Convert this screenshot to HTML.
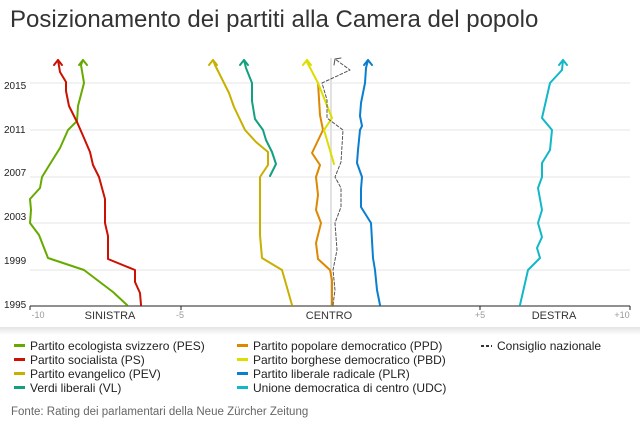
<!DOCTYPE html><html><head><meta charset="utf-8"><style>
body{margin:0;width:640px;height:426px;background:#fff;font-family:"Liberation Sans","DejaVu Sans",sans-serif;overflow:hidden;position:relative}
.t{position:absolute;left:10px;top:6px;font-size:24px;color:#333}
.lg{position:absolute;font-size:12px;color:#222;white-space:nowrap}
.lg i{display:inline-block;width:11px;height:3px;vertical-align:middle;margin-right:5px;position:relative;top:-1px}
.f{position:absolute;left:11px;top:406px;font-size:11.5px;color:#666}
</style></head><body>
<div class="t">Posizionamento dei partiti alla Camera del popolo</div>
<svg width="640" height="426" style="position:absolute;left:0;top:0" font-family="Liberation Sans, DejaVu Sans, sans-serif">
<defs><linearGradient id="sh" x1="0" y1="0" x2="0" y2="1"><stop offset="0" stop-color="#e4e4e4"/><stop offset="1" stop-color="#ffffff"/></linearGradient></defs>
<rect x="0" y="327" width="640" height="8" fill="url(#sh)"/>
<g stroke="#eeeeee" stroke-width="1.5">
<line x1="30" x2="630" y1="83" y2="83"/><line x1="30" x2="630" y1="130" y2="130"/><line x1="30" x2="630" y1="177" y2="177"/><line x1="30" x2="630" y1="223" y2="223"/><line x1="30" x2="630" y1="270" y2="270"/>
</g>
<line x1="331" x2="331" y1="58" y2="306" stroke="#e2e2e2" stroke-width="2"/>
<line x1="30" x2="630" y1="306" y2="306" stroke="#222" stroke-width="1"/>
<g stroke="#222"><line x1="30" x2="30" y1="306" y2="310"/><line x1="181" x2="181" y1="306" y2="310"/><line x1="480" x2="480" y1="306" y2="310"/><line x1="630" x2="630" y1="306" y2="310"/></g>
<g font-size="10" fill="#222"><text x="4" y="89">2015</text><text x="4" y="133">2011</text><text x="4" y="176">2007</text><text x="4" y="220">2003</text><text x="4" y="264">1999</text><text x="4" y="308">1995</text></g>
<g font-size="9" fill="#999" text-anchor="middle"><text x="38" y="318">-10</text><text x="180" y="318">-5</text><text x="480" y="318">+5</text><text x="622" y="318">+10</text></g>
<g font-size="11" fill="#333" text-anchor="middle"><text x="110" y="319">SINISTRA</text><text x="329" y="319">CENTRO</text><text x="554" y="319">DESTRA</text></g>
<g fill="none" stroke-width="2" stroke-linejoin="round" stroke-linecap="round">
<polyline stroke="#66aa00" points="127,305 113,292 84,270 48,258 39,235 30,223 31,210 30,199 40,188 42,177 50,164 60,148 68,130 77,121 78,106 84,83 81,65 83,60"/>
<polyline stroke="#66aa00" points="79,65 83,60 87,65"/>
<polyline stroke="#cc1100" points="141,305 140,293 135,282 135,270 108,259 108,236 105,223 105,199 99,177 93,165 90,152 84,138 77,122 69,106 66,91 66,82 60,72 58,60"/>
<polyline stroke="#cc1100" points="54,65 58,60 62,65"/>
<polyline stroke="#c8b000" points="292,305 282,270 262,258 260,235 260,177 268,165 268,152 256,142 245,130 234,107 229,93 215,65 213,60"/>
<polyline stroke="#c8b000" points="209,65 213,60 217,65"/>
<polyline stroke="#12a080" points="270,176 276,164 272,152 266,140 263,130 255,119 252,101 252,83 246,68 244,60"/>
<polyline stroke="#12a080" points="240,65 244,60 248,65"/>
<polyline stroke="#dd8800" points="332,305 332,280 330,270 318,259 316,243 321,223 316,210 318,195 316,177 320,165 312,153 323,130 320,115 318,83"/>
<polyline stroke="#dddd00" points="334,164 324,130 332,118 318,83 307,62 307,60"/>
<polyline stroke="#dddd00" points="303,65 307,60 311,65"/>
<polyline stroke="#0a7fd0" points="380,305 377,290 375,270 373,258 371,223 361,207 361,189 362,177 357,163 358,150 360,130 362,126 360,116 361,103 365,83 366,68 368,60"/>
<polyline stroke="#0a7fd0" points="364,65 368,60 372,65"/>
<polyline stroke="#11b8c8" points="520,305 528,270 540,258 537,248 542,237 538,223 542,210 538,188 542,177 542,163 550,150 552,130 542,118 550,83 562,70 563,60"/>
<polyline stroke="#11b8c8" points="559,65 563,60 567,65"/>
<polyline stroke="#555" stroke-width="1" stroke-dasharray="3,2" points="333,305 335,290 333,270 337,250 335,223 341,207 341,188 335,177 341,162 343,130 327,118 327,100 322,83 350,70 335,59"/>
<polyline stroke="#555" stroke-width="1" points="334,65 335,59 341,58"/>
</g>
</svg>
<div class="lg" style="left:14px;top:339px"><i style="background:#66aa00"></i>Partito ecologista svizzero (PES)</div>
<div class="lg" style="left:14px;top:353px"><i style="background:#cc1100"></i>Partito socialista (PS)</div>
<div class="lg" style="left:14px;top:367px"><i style="background:#c8b000"></i>Partito evangelico (PEV)</div>
<div class="lg" style="left:14px;top:381px"><i style="background:#12a080"></i>Verdi liberali (VL)</div>
<div class="lg" style="left:237px;top:339px"><i style="background:#dd8800"></i>Partito popolare democratico (PPD)</div>
<div class="lg" style="left:237px;top:353px"><i style="background:#dddd00"></i>Partito borghese democratico (PBD)</div>
<div class="lg" style="left:237px;top:367px"><i style="background:#0a7fd0"></i>Partito liberale radicale (PLR)</div>
<div class="lg" style="left:237px;top:381px"><i style="background:#11b8c8"></i>Unione democratica di centro (UDC)</div>
<div class="lg" style="left:481px;top:339px"><i style="background:repeating-linear-gradient(90deg,#333 0 3px,transparent 3px 5px);height:2px"></i>Consiglio nazionale</div>
<div class="f">Fonte: Rating dei parlamentari della Neue Zürcher Zeitung</div>
</body></html>
